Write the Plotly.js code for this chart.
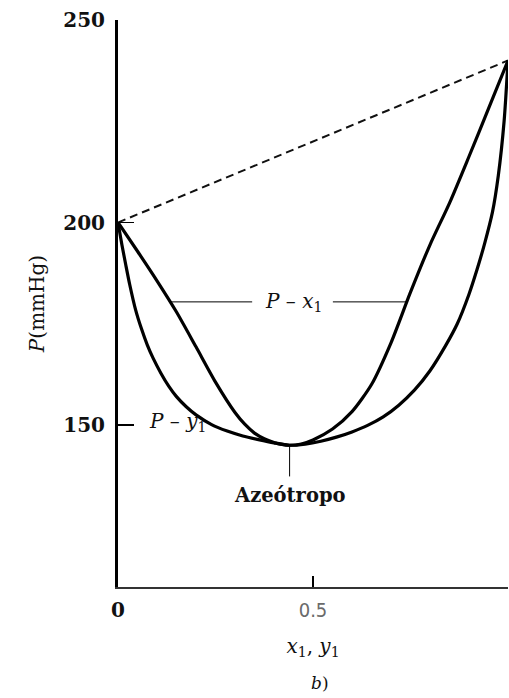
<!DOCTYPE html>
<html>
<head>
<meta charset="utf-8">
<script src="https://cdn.plot.ly/plotly-3.0.1.min.js"></script>
<style>
  html, body { margin: 0; padding: 0; background: #fff; }
  #chart { width: 509px; height: 698px; }
</style>
</head>
<body>
<div id="chart"></div>
<script>
// Bubble-point curve P–x1 (liquid composition), mmHg
const bubbleX = [0, 0.05, 0.10, 0.15, 0.20, 0.25, 0.30, 0.325, 0.35, 0.375, 0.40, 0.42, 0.44, 0.47, 0.50, 0.55, 0.60, 0.65, 0.70, 0.75, 0.80, 0.85, 0.90, 0.95, 1.00];
const bubbleP = [200, 192.9, 185.6, 177.9, 169.3, 160.6, 153.1, 150.2, 148.0, 146.6, 145.7, 145.2, 145.0, 145.3, 146.3, 149.0, 153.3, 160.0, 170.3, 182.8, 194.5, 204.8, 216.3, 228.1, 240];

// Dew-point curve P–y1 (vapour composition), mmHg
const dewY = [0, 0.01, 0.02, 0.03, 0.045, 0.06, 0.075, 0.09, 0.11, 0.13, 0.15, 0.175, 0.20, 0.24, 0.28, 0.32, 0.36, 0.40, 0.44, 0.48, 0.52, 0.56, 0.60, 0.64, 0.68, 0.72, 0.76, 0.80, 0.84, 0.87, 0.90, 0.92, 0.94, 0.96, 0.975, 0.99, 1.00];
const dewP = [200, 194.5, 189.5, 184.7, 178.5, 173.8, 169.8, 166.5, 162.8, 159.6, 157.0, 154.5, 152.5, 150.1, 148.5, 147.3, 146.4, 145.6, 145.0, 145.3, 146.0, 147.0, 148.3, 149.9, 152.0, 154.9, 158.6, 163.4, 169.6, 175.0, 182.3, 188.2, 194.8, 202.5, 211.5, 225, 240];

// Ideal (Raoult) line between the pure-component vapour pressures
const raoultX = [0, 1];
const raoultP = [200, 240];

// Axis ticks
const xTickVals = [0, 0.5];
const xTickText = ['<b>0</b>', '<span style="font-family:\'Liberation Sans Narrow\',\'DejaVu Sans Condensed\';color:#6a6a6a">0.5</span>'];
const yTickVals = [150, 200, 250];
const yTickText = ['<b>150</b>', '<b>200</b>', '<b>250</b>'];

// x positions where a polyline crosses a given pressure level
function crossings(xs, ps, level) {
  const out = [];
  for (let i = 0; i < xs.length - 1; i++) {
    const a = ps[i] - level, b = ps[i + 1] - level;
    if (a === 0) out.push(xs[i]);
    else if (a * b < 0) out.push(xs[i] + (xs[i + 1] - xs[i]) * a / (a - b));
  }
  return out;
}

// azeotrope = minimum of the bubble curve
let iMin = 0;
bubbleP.forEach((p, i) => { if (p < bubbleP[iMin]) iMin = i; });
const azeoX = bubbleX[iMin], azeoP = bubbleP[iMin];

// leader for the P–x1 label
const labelLevel = 180.4;
const hits = crossings(bubbleX, bubbleP, labelLevel);
const pxLeft = hits[0], pxRight = hits[hits.length - 1];

const serif = "'DejaVu Serif', 'Liberation Serif', serif";
const ink = '#111';

const curveLine = { color: '#000', width: 3.2, shape: 'spline', smoothing: 0.7 };

const traces = [
  { x: raoultX, y: raoultP, mode: 'lines',
    line: { color: ink, width: 2, dash: '8px,5px' }, hoverinfo: 'skip' },
  { x: bubbleX, y: bubbleP, mode: 'lines', line: curveLine, hoverinfo: 'skip' },
  { x: dewY, y: dewP, mode: 'lines', line: curveLine, hoverinfo: 'skip' }
];

const layout = {
  width: 509, height: 698,
  margin: { l: 118, r: 1, t: 20, b: 111 },
  paper_bgcolor: '#fff', plot_bgcolor: '#fff',
  showlegend: false,
  font: { family: serif, color: ink },
  xaxis: {
    range: [0, 1],
    showgrid: false, zeroline: false,
    showline: true, linecolor: '#333', linewidth: 2,
    ticks: 'inside', ticklen: 11, tickwidth: 1.5, tickcolor: '#000',
    tickvals: xTickVals, ticktext: xTickText,
    tickfont: { family: serif, size: 20, color: ink },
    ticklabelstandoff: 4,
    title: {
      text: '<i>x</i><sub>1</sub>, <i>y</i><sub>1</sub>',
      font: { family: serif, size: 20, color: ink },
      standoff: 18
    }
  },
  yaxis: {
    range: [110, 250],
    showgrid: false, zeroline: false,
    showline: true, linecolor: '#000', linewidth: 3,
    ticks: 'inside', ticklen: 16, tickwidth: 1.5, tickcolor: '#000',
    tickvals: yTickVals, ticktext: yTickText,
    tickfont: { family: serif, size: 20, color: ink },
    ticklabelstandoff: 6,
    title: {
      text: '<i>P</i>(mmHg)',
      font: { family: serif, size: 20, color: ink },
      standoff: 14
    }
  },
  shapes: [
    // P–x1 leader, left and right of the label
    { type: 'line', xref: 'x', yref: 'y', x0: pxLeft, x1: 0.344, y0: labelLevel, y1: labelLevel,
      line: { color: '#000', width: 1 } },
    { type: 'line', xref: 'x', yref: 'y', x0: 0.551, x1: pxRight, y0: labelLevel, y1: labelLevel,
      line: { color: '#000', width: 1 } },
    // azeotrope pointer
    { type: 'line', xref: 'x', yref: 'y', x0: azeoX, x1: azeoX, y0: azeoP, y1: azeoP - 7.7,
      line: { color: '#000', width: 1 } }
  ],
  annotations: [
    { x: 0.449, y: labelLevel, xref: 'x', yref: 'y', showarrow: false,
      text: '<i>P</i> – <i>x</i><sub>1</sub>', font: { family: serif, size: 20, color: ink } },
    { x: 0.152, y: 150.8, xref: 'x', yref: 'y', showarrow: false,
      text: '<i>P</i> – <i>y</i><sub>1</sub>', font: { family: serif, size: 20, color: ink } },
    { x: azeoX, y: azeoP - 12.3, xref: 'x', yref: 'y', showarrow: false,
      text: '<b>Azeótropo</b>', font: { family: serif, size: 19.5, color: ink } },
    { x: 0.518, y: -0.169, xref: 'paper', yref: 'paper', yanchor: 'middle', showarrow: false,
      text: '<i>b</i>)', font: { family: serif, size: 17, color: ink } }
  ]
};

Plotly.newPlot('chart', traces, layout, { staticPlot: true, displayModeBar: false });
</script>
</body>
</html>
